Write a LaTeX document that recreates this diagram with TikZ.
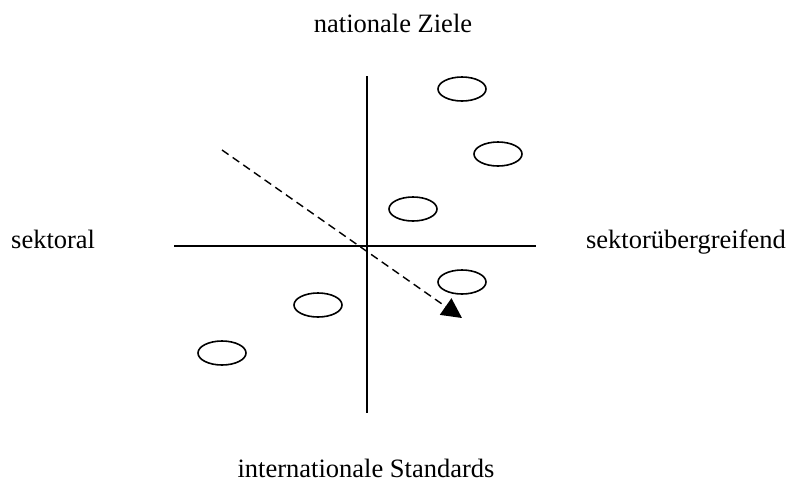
\documentclass[tikz,border=0pt]{standalone}
\usepackage{fontspec}
\setmainfont{Liberation Serif}
\usetikzlibrary{shapes.geometric,arrows.meta}
\tikzset{
  blob/.style={draw, ellipse, line width=1.6pt, minimum width=48pt, minimum height=24pt, inner sep=0pt},
  axis/.style={line width=1.6pt},
  lbl/.style={font=\fontsize{26.5}{30}\selectfont, inner sep=0pt},
  trend/.style={line width=1.4pt, dash pattern=on 8pt off 5pt, -{Triangle[length=20pt,width=20pt]}}
}
\begin{document}
\begin{tikzpicture}[x=1pt,y=-1pt]
\useasboundingbox (0,0) rectangle (790,483);
\coordinate (vt) at (367,76);
\coordinate (vb) at (367,413);
\coordinate (hl) at (174,246);
\coordinate (hr) at (536,246);
\draw[axis] (vt) -- (vb);
\draw[axis] (hl) -- (hr);
\node[blob] (e1) at (462,89) {};
\node[blob] (e2) at (498,154) {};
\node[blob] (e3) at (413,209) {};
\node[blob] (e4) at (462,282) {};
\node[blob] (e5) at (318,305) {};
\node[blob] (e6) at (222,353) {};
\coordinate (as) at (222,150);
\coordinate (ae) at (462,318);
\draw[trend] (as) -- (ae);
\node[lbl,anchor=base] (top) at (393,32) {nationale Ziele};
\node[lbl,anchor=base] (bot) at (366,477) {internationale Standards};
\node[lbl,anchor=base west] (left) at (11,248) {sektoral};
\node[lbl,anchor=base east] (right) at (786,248) {sektorübergreifend};
\end{tikzpicture}
\end{document}
